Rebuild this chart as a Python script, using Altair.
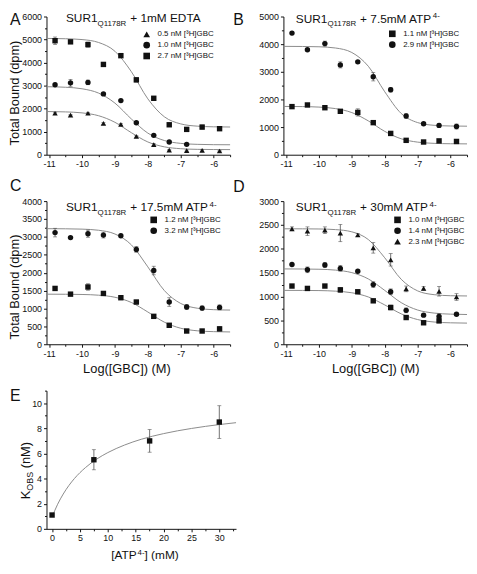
import altair as alt
import pandas as pd

FONT = "Liberation Sans"
INK = "#111111"
FIT = "#8a8a8a"
BAR = "#4d4d4d"

# ---------------- data ----------------
log_gbc = [-10.82, -10.35, -9.82, -9.35, -8.82, -8.35, -7.82, -7.35, -6.82, -6.35, -5.82]
fit_x = [-11.08, -10.5, -10.0, -9.5, -9.0, -8.5, -8.0, -7.5, -7.0, -6.5, -6.0, -5.5]

# Panel A: SUR1 Q1178R + 1mM EDTA
a_names = ["0.5 nM [³H]GBC", "1.0 nM [³H]GBC", "2.7 nM [³H]GBC"]
a_shapes = ["triangle-up", "circle", "square"]
a_tri = [1800, 1720, 1800, 1360, 1320, 800, 440, 200, 175, 185, 160]
a_cir = [3040, 3120, 3140, 2640, 2350, 1390, 840, 550, 450]
a_sq = [4950, 4900, 4780, 3920, 4300, 3250, 2450, 1300, 1100, 1200, 1130]
a_tri_err = [40, 30, 40, 40, 40, 40, 40, 30, 30, 30, 30]
a_cir_err = [40, 150, 100, 40, 40, 40, 40, 30, 30]
a_sq_err = [160, 50, 110, 80, 50, 90, 80, 50, 40, 80, 70]
a_tri_fit = [1875, 1859, 1816, 1694, 1407, 955, 554, 342, 261, 233, 225, 222]
a_cir_fit = [2952, 2929, 2863, 2677, 2240, 1550, 938, 616, 492, 450, 436, 432]
a_sq_fit = [5049, 5035, 4999, 4874, 4491, 3602, 2425, 1648, 1338, 1240, 1211, 1203]

# Panel B: + 7.5mM ATP4-
b_names = ["1.1 nM [³H]GBC", "2.9 nM [³H]GBC"]
b_shapes = ["square", "circle"]
b_sq = [1740, 1800, 1700, 1570, 1530, 1160, 770, 520, 460, 500, 480]
b_cir = [4400, 3800, 4020, 3250, 3360, 2820, 2350, 1400, 1120, 1060, 1020]
b_sq_err = [40, 40, 40, 40, 130, 40, 40, 40, 40, 40, 40]
b_cir_err = [60, 40, 90, 110, 50, 150, 80, 80, 50, 60, 90]
b_sq_fit = [1747, 1741, 1723, 1669, 1524, 1224, 844, 576, 455, 411, 397, 392]
b_cir_fit = [3920, 3916, 3905, 3861, 3698, 3201, 2277, 1492, 1162, 1064, 1039, 1032]

# Panel C: + 17.5mM ATP4-
c_names = ["1.2 nM [³H]GBC", "3.2 nM [³H]GBC"]
c_shapes = ["square", "circle"]
c_sq = [1560, 1400, 1600, 1420, 1300, 1180, 780, 530, 370, 370, 430]
c_cir = [3120, 2980, 3090, 3050, 3030, 2650, 2060, 1180, 1040, 1010, 1030]
c_sq_err = [40, 20, 90, 20, 30, 50, 20, 40, 30, 30, 60]
c_cir_err = [120, 20, 100, 80, 20, 80, 120, 120, 70, 60, 70]
c_sq_fit = [1399, 1397, 1391, 1371, 1313, 1167, 901, 618, 447, 376, 352, 344]
c_cir_fit = [3230, 3226, 3217, 3186, 3081, 2777, 2162, 1502, 1139, 1007, 966, 955]

# Panel D: + 30mM ATP4-
d_names = ["1.0 nM [³H]GBC", "1.4 nM [³H]GBC", "2.3 nM [³H]GBC"]
d_shapes = ["square", "circle", "triangle-up"]
d_sq = [1220, 1170, 1220, 1140, 1100, 910, 770, 560, 450, 490]
d_cir = [1670, 1560, 1660, 1590, 1530, 1250, 1100, 710, 610, 580, 630]
d_tri = [2420, 2370, 2390, 2330, 2290, 2020, 1770, 1160, 1170, 1110, 990]
d_sq_err = [20, 20, 20, 50, 20, 30, 50, 20, 30, 40]
d_cir_err = [20, 60, 50, 60, 20, 60, 60, 50, 20, 60, 20]
d_tri_err = [40, 90, 70, 180, 30, 110, 130, 60, 40, 100, 70]
d_sq_fit = [1129, 1128, 1125, 1113, 1079, 991, 824, 637, 517, 466, 449, 443]
d_cir_fit = [1579, 1577, 1572, 1554, 1501, 1369, 1128, 872, 717, 653, 631, 623]
d_tri_fit = [2420, 2419, 2416, 2403, 2356, 2195, 1812, 1361, 1118, 1039, 1017, 1012]

# Panel E: K_OBS vs [ATP4-]
e_atp = [0, 7.5, 17.5, 30]
e_k = [1.1, 5.5, 7.0, 8.5]
e_err = [0.0, 0.8, 0.9, 1.3]
e_fit_x = [0, 1, 2, 3, 4, 6, 8, 10, 13, 16, 20, 25, 30, 33]
e_fit_y = [0.95, 1.96, 2.77, 3.44, 4.00, 4.88, 5.55, 6.07, 6.67, 7.13, 7.58, 7.99, 8.30, 8.45]

# tick values
x_major = [-11, -10, -9, -8, -7, -6]
x_minor = [-10.5, -9.5, -8.5, -7.5, -6.5, -5.5]

W, W_E = 186, 192
H1, H2, H_E = 140, 145, 140


# ---------------- helpers ----------------
def gbc_frames(names, vals, errs, fits):
    rows = []
    for n, v, e in zip(names, vals, errs):
        for x, y, d in zip(log_gbc, v, e):
            rows.append({"x": x, "y": y, "s": n, "lo": y - d, "hi": y + d})
    frows = []
    for n, f in zip(names, fits):
        for x, y in zip(fit_x, f):
            frows.append({"x": x, "y": y, "s": n})
    return pd.DataFrame(rows), pd.DataFrame(frows)


def txt(t, x, y, size, angle=0, align="left", baseline="alphabetic"):
    return alt.Chart(pd.DataFrame({"t": [t]})).mark_text(
        font=FONT, fontSize=size, color=INK, align=align, baseline=baseline, angle=angle
    ).encode(x=alt.value(x), y=alt.value(y), text="t:N")


def title_layers(x0, y0, rest, rest_w=None):
    layers = [
        txt("SUR1", x0, y0, 12),
        txt("Q1178R", x0 + 32.0, y0 + 3.5, 8),
        txt(rest, x0 + 32.0 + 29.8 + 3.3, y0, 12),
    ]
    if rest_w:
        layers.append(txt("4-", x0 + 32.0 + 29.8 + 3.3 + rest_w, y0 - 5, 8))
    return layers


def build(pts, fit, xsc, ysc, ax_xM, ax_xm, ax_yM, ax_ym, shape_enc, extra):
    line = alt.Chart(fit).mark_line(color=FIT, strokeWidth=1, interpolate="monotone").encode(
        x=alt.X("x:Q", scale=xsc, axis=ax_xM),
        y=alt.Y("y:Q", scale=ysc, axis=ax_yM),
        detail="s:N",
    )
    rule = alt.Chart(pts).mark_rule(color=BAR, strokeWidth=0.8).encode(
        x=alt.X("x:Q", scale=xsc, axis=None),
        y=alt.Y("lo:Q", scale=ysc, axis=None),
        y2="hi:Q",
    )
    caps = alt.Chart(pts).transform_fold(["lo", "hi"], as_=["k", "v"]).mark_tick(
        color=BAR, orient="horizontal", size=4, thickness=0.8
    ).encode(
        x=alt.X("x:Q", scale=xsc, axis=None),
        y=alt.Y("v:Q", scale=ysc, axis=None),
    )
    dots = alt.Chart(pts).mark_point(filled=True, opacity=1, size=30, color=INK).encode(
        x=alt.X("x:Q", scale=xsc, axis=ax_xm),
        y=alt.Y("y:Q", scale=ysc, axis=ax_ym),
        shape=shape_enc,
    )
    return alt.layer(line, rule, caps, dots, *extra).resolve_axis(x="independent", y="independent")


def gbc_panel(names, shapes, vals, errs, fits, ymax, ystep, yminor, w, h,
              letter, letter_xy, title_xy, rest, rest_w, legend_xy,
              ytitle=None, ytitle_dy=0, xtitle=None, xtitle_dx=0):
    pts, fit = gbc_frames(names, vals, errs, fits)
    xsc = alt.Scale(domain=[-11.08, -5.5], nice=False, zero=False)
    ysc = alt.Scale(domain=[0, ymax], nice=False, zero=False)
    xkw = dict(values=x_major, orient="bottom", labelExpr="'' + datum.value")
    if xtitle:
        xkw.update(title=xtitle, titleX=w / 2 + xtitle_dx, titleY=19)
    else:
        xkw.update(title=None)
    ax_xM = alt.Axis(**xkw)
    ax_xm = alt.Axis(values=x_minor, orient="bottom", labels=False, domain=False, tickSize=2, title=None)
    ykw = dict(values=list(range(0, ymax + 1, ystep)), orient="left", format="d")
    if ytitle:
        ykw.update(title=ytitle, titleX=-25, titleY=h / 2 + ytitle_dy)
    else:
        ykw.update(title=None)
    ax_yM = alt.Axis(**ykw)
    ax_ym = alt.Axis(values=yminor, orient="left", labels=False, domain=False, tickSize=2, title=None)
    shape_enc = alt.Shape(
        "s:N",
        scale=alt.Scale(domain=names, range=shapes),
        legend=alt.Legend(
            orient="none", legendX=legend_xy[0], legendY=legend_xy[1], title=None,
            labelFont=FONT, labelFontSize=8, labelColor=INK, symbolSize=45,
            symbolFillColor=INK, symbolStrokeColor=INK, symbolStrokeWidth=0,
            rowPadding=3, labelOffset=7, padding=0,
        ),
    )
    extra = [txt(letter, letter_xy[0], letter_xy[1], 16)]
    extra += title_layers(title_xy[0], title_xy[1], rest, rest_w)
    return build(pts, fit, xsc, ysc, ax_xM, ax_xm, ax_yM, ax_ym, shape_enc, extra).properties(
        width=w, height=h
    )


# ---------------- panels ----------------
pA = gbc_panel(a_names, a_shapes, [a_tri, a_cir, a_sq], [a_tri_err, a_cir_err, a_sq_err],
               [a_tri_fit, a_cir_fit, a_sq_fit], 6000, 1000, list(range(500, 6000, 1000)),
               W, H1, "A", (-37, 9), (19.7, 6), "+ 1mM EDTA", None, (97.5, 14),
               ytitle="Total Bound (dpm)", ytitle_dy=7)

pB = gbc_panel(b_names, b_shapes, [b_sq, b_cir], [b_sq_err, b_cir_err],
               [b_sq_fit, b_cir_fit], 5000, 1000, list(range(500, 5000, 1000)),
               W, H1, "B", (-50.7, 9), (12.6, 6.5), "+ 7.5mM ATP", 73.7, (106.3, 13.5))

pC = gbc_panel(c_names, c_shapes, [c_sq, c_cir], [c_sq_err, c_cir_err],
               [c_sq_fit, c_cir_fit], 4000, 500, list(range(250, 4000, 500)),
               W, H2, "C", (-37, -10), (19.7, 10.5), "+ 17.5mM ATP", 80.4, (104.6, 15),
               ytitle="Total Bound (dpm)", ytitle_dy=14, xtitle="Log([GBC]) (M)", xtitle_dx=-12)

pD = gbc_panel(d_names, d_shapes, [d_sq, d_cir, d_tri], [d_sq_err, d_cir_err, d_tri_err],
               [d_sq_fit, d_cir_fit, d_tri_fit], 3000, 500, list(range(250, 3000, 500)),
               W, H2, "D", (-50.7, -9), (12.6, 10.5), "+ 30mM ATP", 70.4, (111.6, 15),
               xtitle="Log([GBC]) (M)")

# Panel E
e_pts = pd.DataFrame({"x": e_atp, "y": e_k,
                      "lo": [k - d for k, d in zip(e_k, e_err)],
                      "hi": [k + d for k, d in zip(e_k, e_err)],
                      "s": "K"})
e_fit = pd.DataFrame({"x": e_fit_x, "y": e_fit_y, "s": "fit"})
e_xsc = alt.Scale(domain=[-1, 33], nice=False, zero=False)
e_ysc = alt.Scale(domain=[0, 11], nice=False, zero=False)
e_ax_xM = alt.Axis(values=[0, 5, 10, 15, 20, 25, 30], orient="bottom", format="d", title=None)
e_ax_xm = alt.Axis(values=[2.5, 7.5, 12.5, 17.5, 22.5, 27.5, 32.5], orient="bottom",
                   labels=False, domain=False, tickSize=2, title=None)
e_ax_yM = alt.Axis(values=[0, 2, 4, 6, 8, 10], orient="left", format="d", title=None)
e_ax_ym = alt.Axis(values=[1, 3, 5, 7, 9, 11], orient="left", labels=False, domain=False,
                   tickSize=2, title=None)
ky0 = 110
ex0 = 98 - 32.5
e_extra = [
    txt("E", -37, 10, 16),
    txt("K", -16.7, ky0, 13, angle=270),
    txt("OBS", -13.7, ky0 - 8.7, 9, angle=270),
    txt("(nM)", -16.7, ky0 - 8.7 - 19.0 - 3.6, 13, angle=270),
    txt("[ATP", ex0, H_E + 31, 12),
    txt("4-", ex0 + 26.7, H_E + 26.5, 8),
    txt("] (mM)", ex0 + 26.7 + 7.1, H_E + 31, 12),
]
pE = build(e_pts, e_fit, e_xsc, e_ysc, e_ax_xM, e_ax_xm, e_ax_yM, e_ax_ym,
           alt.value("square"), e_extra).properties(width=W_E, height=H_E)

# ---------------- layout ----------------
chart = alt.concat(
    pA, pB, pC, pD, pE, columns=2, bounds="flush",
    spacing={"row": 47, "column": 48},
).resolve_scale(x="independent", y="independent", shape="independent").resolve_legend(
    shape="independent"
).properties(padding=0)

chart = chart.configure(font=FONT).configure_view(strokeOpacity=0).configure_axis(
    grid=False, domainColor=INK, tickColor=INK, labelColor=INK, titleColor=INK,
    labelFont=FONT, titleFont=FONT, labelFontSize=9, titleFontSize=13,
    titleFontWeight="normal", domainWidth=1, tickWidth=1, tickSize=3, labelPadding=2,
)

chart.save("out.html", embed_options={"renderer": "svg", "actions": False})
